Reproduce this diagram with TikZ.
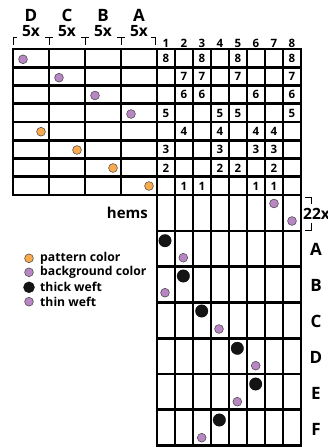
\documentclass[tikz,border=0pt]{standalone}
\usepackage{fontspec}
\setmainfont{Open Sans}
\definecolor{purp}{RGB}{184,134,194}
\definecolor{orng}{RGB}{249,170,76}
\begin{document}
\begin{tikzpicture}[x=1pt,y=-1pt,
  gl/.style={line width=2.9pt,line cap=rect},
  brk/.style={line width=0.9pt},
  pdot/.style={circle,fill=purp,draw=black!75,line width=0.5pt,minimum size=8.8pt,inner sep=0pt},
  odot/.style={circle,fill=orng,draw=black!75,line width=0.5pt,minimum size=8.8pt,inner sep=0pt},
  bdot/.style={circle,fill=black!92,draw=black,line width=0.3pt,minimum size=12.5pt,inner sep=0pt},
  num/.style={font=\bfseries\fontsize{11.5}{11.5}\selectfont,inner sep=0pt},
  hdr/.style={font=\bfseries\fontsize{17}{17}\selectfont,inner sep=0pt},
  fx/.style={font=\bfseries\fontsize{15.5}{15.5}\selectfont,inner sep=0pt},
  leg/.style={font=\bfseries\fontsize{12.2}{12.2}\selectfont,inner sep=0pt,anchor=west},
  rowl/.style={font=\bfseries\fontsize{17}{17}\selectfont,inner sep=0pt}]
\useasboundingbox (0,0) rectangle (327,447);
% top section horizontal lines
\foreach \i in {0,...,8}{
  \draw[gl] (13,{49+\i*18.25}) -- (301,{49+\i*18.25});
}
% left grid verticals
\foreach \x in {13,49,85,121}{
  \draw[gl] (\x,49) -- (\x,195);
}
% right grid verticals
\foreach \x in {157,175,193,211,229,247,265,283,301}{
  \draw[gl] (\x,49) -- (\x,445.5);
}
% lower horizontals
\foreach \y in {231,266.75,302.5,338.25,374,409.75,445.5}{
  \draw[gl] (157,\y) -- (301,\y);
}
% header letters and brackets
\foreach \l/\x in {D/31,C/67,B/103,A/139}{
  \node[hdr] (h\l) at (\x,15) {\l};
  \node[fx] (f\l) at (\x,31) {5x};
}
\draw[brk] (13,45) -- (13,37.5) -- (17,37.5);
\foreach \x in {49,85,121}{
  \draw[brk] (\x-4,37.5) -- (\x+4,37.5);
  \draw[brk] (\x,37.5) -- (\x,45);
}
\draw[brk] (151,37.5) -- (155,37.5) -- (155,45);
% column numbers
\foreach \c in {1,...,8}{
  \node[num] (c\c) at ({166+18*(\c-1)},43) {\c};
}
% numbers in the cells
\foreach \r/\cols in {8/{1,3,5,8},7/{2,3,5,8},6/{2,3,6,8},5/{1,4,5,8},4/{2,4,6,7},3/{1,4,6,7},2/{1,4,5,7},1/{2,3,6,7}}{
  \foreach \c in \cols {
    \node[num] (n\r\c) at ({166+18*(\c-1)},{58.4+(8-\r)*18.25}) {\r};
  }
}
% left grid dots
\node[pdot] (d1) at (23,59.3) {};
\node[pdot] (d2) at (59,77.7) {};
\node[pdot] (d3) at (95,95.5) {};
\node[pdot] (d4) at (131,114) {};
\node[odot] (d5) at (41,131.7) {};
\node[odot] (d6) at (77,150) {};
\node[odot] (d7) at (113,168) {};
\node[odot] (d8) at (149,186) {};
% hems
\node[font=\bfseries\fontsize{15}{15}\selectfont,inner sep=0pt,anchor=east] (hems) at (148,213) {hems};
\node[pdot] (hm1) at (274,203.5) {};
\node[pdot] (hm2) at (292,221) {};
\draw[brk] (305,197) -- (311.5,197) -- (311.5,204);
\draw[brk] (311.5,223) -- (311.5,230.5) -- (305,230.5);
\node[fx,anchor=west] (t22) at (303,213.5) {22x};
% lower section dots
\node[bdot] (a1) at (165,240.7) {};
\node[pdot] (a2) at (183.3,257.7) {};
\node[bdot] (b1) at (183.3,276) {};
\node[pdot] (b2) at (165,292.7) {};
\node[bdot] (e1) at (201.7,311) {};
\node[pdot] (e2) at (219,329) {};
\node[bdot] (g1) at (237.3,348.3) {};
\node[pdot] (g2) at (255.7,365.7) {};
\node[bdot] (k1) at (255.7,384) {};
\node[pdot] (k2) at (237.3,401.7) {};
\node[bdot] (m1) at (219.3,420) {};
\node[pdot] (m2) at (201.7,437.7) {};
% row labels
\foreach \l/\y in {A/249,B/285,C/321,D/357,E/393,F/429}{
  \node[rowl] (r\l) at (316,\y) {\l};
}
% legend
\node[odot] (lo) at (29,258.3) {};
\node[leg] (lot) at (40,258.3) {pattern color};
\node[pdot] (lp) at (29,272.3) {};
\node[leg] (lpt) at (40,272.3) {background color};
\node[bdot,minimum size=11pt] (lb) at (29,287.3) {};
\node[leg] (lbt) at (40,287.3) {thick weft};
\node[pdot] (lt) at (29,301.7) {};
\node[leg] (ltt) at (40,301.7) {thin weft};
\end{tikzpicture}
\end{document}
